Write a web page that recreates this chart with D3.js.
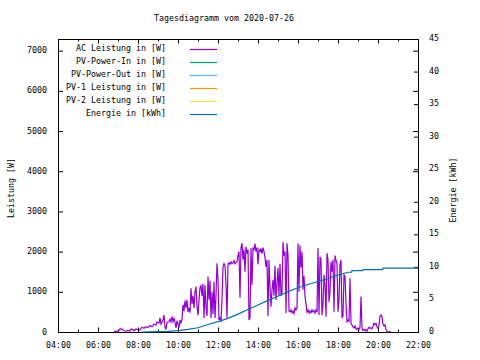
<!DOCTYPE html>
<html><head><meta charset="utf-8">
<script src="https://cdn.jsdelivr.net/npm/d3@7"></script>
<style>
body{margin:0;background:#fff;}
svg{display:block;}
text{font-family:"DejaVu Sans Mono",monospace;font-size:8.3px;fill:#000;}
</style></head>
<body><svg id="c" width="480" height="360"></svg>
<script>
const title = "Tagesdiagramm vom 2020-07-26";
const yLeftLabel = "Leistung [W]";
const yRightLabel = "Energie [kWh]";
const legendNames = ["AC Leistung in [W]","PV-Power-In in [W]","PV-Power-Out in [W]","PV-1 Leistung in [W]","PV-2 Leistung in [W]","Energie in [kWh]"];
const legendColors = ["#9400d3","#009e73","#56b4e9","#e69f00","#f0e442","#0072b2"];
const leftTicks = [0,1000,2000,3000,4000,5000,6000,7000];
const rightTicks = [0,5,10,15,20,25,30,35,40,45];
const xLabelTicks = ["04:00","06:00","08:00","10:00","12:00","14:00","16:00","18:00","20:00","22:00"];

const acPower = [
["06:48",10],["06:54",25],["07:00",20],["07:06",75],["07:12",70],["07:18",30],["07:24",20],["07:30",40],["07:36",25],["07:39",75],
["07:45",60],["07:48",30],["07:54",75],["08:00",60],["08:06",50],["08:12",120],["08:18",90],["08:24",130],["08:30",110],["08:36",160],
["08:42",130],["08:48",200],["08:54",170],["08:57",250],["09:03",220],["09:06",350],["09:09",200],["09:15",300],["09:18",420],["09:21",130],
["09:24",60],["09:27",240],["09:33",260],["09:36",320],["09:39",250],["09:42",380],["09:45",260],["09:48",340],["09:51",240],["09:54",100],
["09:57",280],["10:00",200],["10:03",100],["10:06",300],["10:09",230],["10:12",320],["10:15",680],["10:18",520],["10:21",780],["10:24",600],
["10:27",800],["10:30",500],["10:33",600],["10:36",480],["10:39",1090],["10:42",700],["10:45",900],["10:48",600],["10:51",1000],["10:54",1130],
["10:57",650],["11:00",420],["11:03",800],["11:06",1100],["11:09",1150],["11:12",900],["11:15",1200],["11:18",350],["11:21",1170],["11:24",600],
["11:27",400],["11:30",1380],["11:33",800],["11:36",1280],["11:39",350],["11:42",1000],["11:45",450],["11:48",1250],["11:51",350],["11:54",900],
["11:57",1710],["12:00",1300],["12:03",300],["12:06",350],["12:09",250],["12:12",800],["12:15",1620],["12:18",1700],["12:21",1650],["12:24",1200],
["12:27",350],["12:30",1700],["12:33",1720],["12:36",1680],["12:39",1750],["12:42",1700],["12:45",1720],["12:48",1780],["12:51",1700],["12:54",1730],
["12:57",1750],["13:00",1900],["13:03",2000],["13:06",850],["13:09",2100],["13:12",2210],["13:15",1800],["13:18",2050],["13:21",1500],["13:24",2120],
["13:27",1950],["13:30",2050],["13:33",300],["13:36",350],["13:39",2090],["13:42",1170],["13:45",2100],["13:48",2050],["13:51",2200],["13:54",2000],
["13:57",2100],["14:00",1680],["14:03",2050],["14:06",2000],["14:09",2080],["14:12",1950],["14:15",2100],["14:18",2000],["14:21",1850],["14:24",1620],
["14:27",1800],["14:30",400],["14:33",1790],["14:36",1100],["14:39",630],["14:42",1050],["14:45",1300],["14:48",900],["14:51",1650],["14:54",800],
["14:57",1200],["15:00",1600],["15:03",900],["15:06",1700],["15:09",900],["15:12",1000],["15:15",2240],["15:18",1900],["15:21",2000],["15:24",470],
["15:27",2210],["15:30",1900],["15:33",520],["15:36",500],["15:39",550],["15:42",480],["15:45",520],["15:48",460],["15:51",600],["15:54",550],
["15:57",600],["16:00",2210],["16:03",1000],["16:06",2160],["16:09",1600],["16:12",2000],["16:15",1050],["16:18",1400],["16:21",880],["16:24",700],
["16:27",500],["16:30",550],["16:33",470],["16:36",520],["16:39",480],["16:42",550],["16:45",500],["16:48",530],["16:51",470],["16:54",550],
["16:57",500],["17:00",2090],["17:03",420],["17:06",1870],["17:09",1800],["17:12",420],["17:15",700],["17:18",1420],["17:21",1200],["17:24",380],
["17:27",1960],["17:30",1800],["17:33",750],["17:36",1000],["17:39",1750],["17:42",1500],["17:45",1800],["17:48",505],["17:51",1900],["17:54",1790],
["17:57",1700],["18:00",505],["18:03",800],["18:06",1670],["18:09",1790],["18:12",350],["18:15",400],["18:18",1420],["18:21",1380],["18:24",700],
["18:27",260],["18:30",300],["18:33",250],["18:36",1340],["18:39",220],["18:42",170],["18:45",130],["18:48",100],["18:51",150],["18:54",80],
["18:57",60],["19:00",100],["19:03",60],["19:06",120],["19:09",880],["19:12",90],["19:15",40],["19:18",70],["19:21",30],["19:24",60],
["19:27",20],["19:30",80],["19:33",120],["19:36",90],["19:39",100],["19:42",80],["19:45",140],["19:48",220],["19:51",180],["19:54",210],
["19:57",130],["20:00",90],["20:03",160],["20:06",390],["20:09",420],["20:12",380],["20:15",200],["20:18",150],["20:21",180],["20:24",60],
["20:27",20],["20:30",10],["20:33",5],["20:36",10],["20:39",0]
];

const energy = [
["08:12",0],["09:00",0.05],["09:30",0.1],["10:00",0.2],["10:30",0.4],["11:00",0.65],["11:30",1.15],["12:00",1.6],["12:30",2.1],
["13:00",2.75],["13:30",3.45],["14:00",4.15],["14:30",4.85],["15:00",5.5],["15:30",6.2],["16:00",6.8],["16:30",7.3],["17:00",7.75],
["17:30",8.2],["18:00",8.75],["18:30",9.18],["18:41",9.18],["18:42",9.43],["19:14",9.43],["19:15",9.58],["20:14",9.58],["20:15",9.8],["22:00",9.8]
];

const parse = d3.timeParse("%H:%M");
const svg = d3.select("#c");
const L = 58, R = 418, T = 39, B = 332;

const x = d3.scaleTime().domain([parse("04:00"), parse("22:00")]).range([L, R]);
const yL = d3.scaleLinear().domain([0, 7290]).range([B, T]);
const yR = d3.scaleLinear().domain([0, 45]).range([B, T]);

const hourTicks = d3.range(4, 23).map(h => parse(String(h).padStart(2,"0") + ":00"));
const labelTicks = xLabelTicks.map(parse);
const fmt = d3.timeFormat("%H:%M");

function styleAxis(g){ g.select(".domain").remove(); g.selectAll("line").attr("stroke","#000").attr("stroke-width",1); g.selectAll("text").attr("font-family",null).attr("font-size",null); }

// minor hour ticks bottom & top
svg.append("g").attr("transform",`translate(0,${B})`).call(d3.axisBottom(x).tickValues(hourTicks).tickSize(-2.5).tickFormat("")).call(styleAxis);
svg.append("g").attr("transform",`translate(0,${T})`).call(d3.axisTop(x).tickValues(hourTicks).tickSize(-2.5).tickFormat("")).call(styleAxis);
// major bottom with labels
const gx = svg.append("g").attr("transform",`translate(0,${B})`).call(d3.axisBottom(x).tickValues(labelTicks).tickSize(-4.5).tickFormat(fmt)).call(styleAxis);
gx.selectAll("text").attr("y",12.5).attr("dy",null).attr("dominant-baseline","central");
svg.append("g").attr("transform",`translate(0,${T})`).call(d3.axisTop(x).tickValues(labelTicks).tickSize(-4.5).tickFormat("")).call(styleAxis);

// left axis
const gl = svg.append("g").attr("transform",`translate(${L},0)`).call(d3.axisLeft(yL).tickValues(leftTicks).tickSize(-5).tickPadding(11).tickFormat(d3.format("d"))).call(styleAxis);
gl.selectAll("text").attr("dy",null).attr("y",-1).attr("dominant-baseline","central");
svg.append("g").attr("transform",`translate(${R},0)`).call(d3.axisRight(yL).tickValues(leftTicks).tickSize(-5).tickFormat("")).call(styleAxis);
// right axis
const gr = svg.append("g").attr("transform",`translate(${R},0)`).call(d3.axisRight(yR).tickValues(rightTicks).tickSize(-4).tickPadding(11).tickFormat(d3.format("d"))).call(styleAxis);
gr.selectAll("text").attr("dy",null).attr("y",-1.5).attr("dominant-baseline","central");

// border
svg.append("rect").attr("x",L+0.5).attr("y",T+0.5).attr("width",R-L).attr("height",B-T).attr("fill","none").attr("stroke","#000").attr("stroke-width",1);

// data lines
const lineAC = d3.line().x(d => x(parse(d[0]))).y(d => yL(d[1]));
svg.append("path").datum(acPower).attr("d",lineAC).attr("fill","none").attr("stroke",legendColors[0]).attr("stroke-width",1.2);
const lineE = d3.line().x(d => x(parse(d[0]))).y(d => yR(d[1]));
svg.append("path").datum(energy).attr("d",lineE).attr("fill","none").attr("stroke",legendColors[5]).attr("stroke-width",1.2);

// legend
const lg = svg.append("g");
legendNames.forEach((n,i) => {
  const ly = 49 + i*13;
  lg.append("text").attr("x",166).attr("y",ly-1).attr("text-anchor","end").attr("dominant-baseline","central").text(n);
  lg.append("line").attr("x1",190).attr("x2",217).attr("y1",ly+0.5).attr("y2",ly+0.5).attr("stroke",legendColors[i]).attr("stroke-width",1.2);
});

// titles
svg.append("text").attr("x",224).attr("y",18).attr("text-anchor","middle").attr("dominant-baseline","central").text(title);
svg.append("text").attr("transform","translate(11,188) rotate(-90)").attr("text-anchor","middle").attr("dominant-baseline","central").text(yLeftLabel);
svg.append("text").attr("transform","translate(453,190) rotate(-90)").attr("text-anchor","middle").attr("dominant-baseline","central").text(yRightLabel);
</script></body></html>
